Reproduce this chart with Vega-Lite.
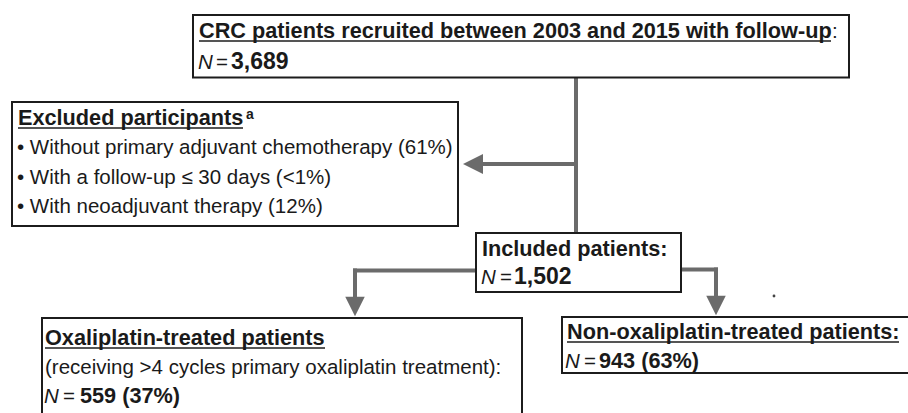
{
  "$schema": "https://vega.github.io/schema/vega-lite/v6.json",
  "width": 908,
  "height": 413,
  "autosize": {"type": "none"},
  "padding": 0,
  "background": "white",
  "config": {"view": {"stroke": null}},
  "datasets": {
    "boxes": [
      {"name": "top", "x": 193, "x2": 849, "y": 15, "y2": 77.5},
      {"name": "excluded", "x": 12, "x2": 458, "y": 102, "y2": 226},
      {"name": "included", "x": 476, "x2": 681, "y": 233, "y2": 292},
      {"name": "oxaliplatin", "x": 42, "x2": 522, "y": 318, "y2": 425},
      {"name": "nonoxaliplatin", "x": 562, "x2": 915, "y": 317, "y2": 373}
    ],
    "connectors": [
      {"x": 576, "x2": 576, "y": 77.5, "y2": 233},
      {"x": 478, "x2": 576, "y": 164, "y2": 164},
      {"x": 476, "x2": 355, "y": 270.5, "y2": 270.5},
      {"x": 355, "x2": 355, "y": 270.5, "y2": 300},
      {"x": 681, "x2": 716, "y": 269.5, "y2": 269.5},
      {"x": 716, "x2": 716, "y": 269.5, "y2": 299}
    ],
    "arrows": [
      {"x": 473, "y": 164, "shape": "M1,-1L1,1L-1,0Z", "size": 400},
      {"x": 355, "y": 306.5, "shape": "M-1,-1L1,-1L0,1Z", "size": 380},
      {"x": 716, "y": 305.5, "shape": "M-1,-1L1,-1L0,1Z", "size": 380}
    ],
    "specks": [
      {"x": 774, "y": 296}
    ],
    "underlines": [
      {"x": 199, "x2": 831, "y": 41},
      {"x": 18, "x2": 243, "y": 128},
      {"x": 45, "x2": 325, "y": 348},
      {"x": 567, "x2": 899, "y": 342}
    ],
    "texts": [
      {"style": "b", "text": "CRC patients recruited between 2003 and 2015 with follow-up", "x": 199, "y": 38},
      {"style": "n", "text": ":", "x": 832, "y": 38},
      {"style": "i", "text": "N", "x": 198, "y": 69},
      {"style": "n", "text": "=", "x": 216, "y": 69},
      {"style": "bn", "text": "3,689", "x": 231, "y": 69},
      {"style": "b", "text": "Excluded participants", "x": 18, "y": 125},
      {"style": "sup", "text": "a", "x": 246, "y": 119},
      {"style": "n", "text": "• Without primary adjuvant chemotherapy (61%)", "x": 17, "y": 154},
      {"style": "n", "text": "• With a follow-up ≤ 30 days (<1%)", "x": 17, "y": 184},
      {"style": "n", "text": "• With neoadjuvant therapy (12%)", "x": 17, "y": 213},
      {"style": "b", "text": "Included patients:", "x": 482, "y": 256},
      {"style": "i", "text": "N", "x": 481, "y": 284},
      {"style": "n", "text": "=", "x": 500, "y": 284},
      {"style": "bn", "text": "1,502", "x": 514, "y": 284},
      {"style": "b", "text": "Oxaliplatin-treated patients", "x": 45, "y": 345},
      {"style": "n", "text": "(receiving >4 cycles primary oxaliplatin treatment):", "x": 45, "y": 374},
      {"style": "i", "text": "N", "x": 44, "y": 403},
      {"style": "n", "text": "=", "x": 63, "y": 403},
      {"style": "b", "text": "559 (37%)", "x": 80, "y": 403},
      {"style": "b", "text": "Non-oxaliplatin-treated patients:", "x": 567, "y": 339},
      {"style": "i", "text": "N", "x": 565, "y": 368},
      {"style": "n", "text": "=", "x": 584, "y": 368},
      {"style": "b", "text": "943 (63%)", "x": 599, "y": 368}
    ]
  },
  "layer": [
    {
      "data": {"name": "connectors"},
      "mark": {"type": "rule", "stroke": "#6b6b6b", "strokeWidth": 4, "strokeCap": "square"},
      "encoding": {
        "x": {"field": "x", "type": "quantitative", "scale": {"domain": [0, 908], "nice": false, "zero": false}, "axis": null},
        "x2": {"field": "x2"},
        "y": {"field": "y", "type": "quantitative", "scale": {"domain": [0, 413], "nice": false, "zero": false, "reverse": true}, "axis": null},
        "y2": {"field": "y2"}
      }
    },
    {
      "data": {"name": "boxes"},
      "mark": {"type": "rect", "fill": "white", "stroke": "#1c1c1c", "strokeWidth": 2},
      "encoding": {
        "x": {"field": "x", "type": "quantitative", "axis": null},
        "x2": {"field": "x2"},
        "y": {"field": "y", "type": "quantitative", "axis": null},
        "y2": {"field": "y2"}
      }
    },
    {
      "data": {"name": "arrows"},
      "mark": {"type": "point", "filled": true, "fill": "#6b6b6b", "opacity": 1, "strokeWidth": 0},
      "encoding": {
        "x": {"field": "x", "type": "quantitative", "axis": null},
        "y": {"field": "y", "type": "quantitative", "axis": null},
        "shape": {"field": "shape", "type": "nominal", "scale": null, "legend": null},
        "size": {"field": "size", "type": "quantitative", "scale": null, "legend": null}
      }
    },
    {
      "data": {"name": "specks"},
      "mark": {"type": "point", "filled": true, "shape": "circle", "size": 8, "fill": "#444444", "opacity": 1},
      "encoding": {
        "x": {"field": "x", "type": "quantitative", "axis": null},
        "y": {"field": "y", "type": "quantitative", "axis": null}
      }
    },
    {
      "data": {"name": "underlines"},
      "mark": {"type": "rule", "stroke": "#1c1c1c", "strokeWidth": 1.6},
      "encoding": {
        "x": {"field": "x", "type": "quantitative", "axis": null},
        "x2": {"field": "x2"},
        "y": {"field": "y", "type": "quantitative", "axis": null}
      }
    },
    {
      "data": {"name": "texts"},
      "transform": [{"filter": "datum.style === 'b'"}],
      "mark": {"type": "text", "align": "left", "baseline": "alphabetic", "font": "Liberation Sans", "fontSize": 21.7, "fontWeight": "bold", "fill": "#1a1a1a"},
      "encoding": {
        "x": {"field": "x", "type": "quantitative", "axis": null},
        "y": {"field": "y", "type": "quantitative", "axis": null},
        "text": {"field": "text"}
      }
    },
    {
      "data": {"name": "texts"},
      "transform": [{"filter": "datum.style === 'bn'"}],
      "mark": {"type": "text", "align": "left", "baseline": "alphabetic", "font": "Liberation Sans", "fontSize": 23, "fontWeight": "bold", "fill": "#1a1a1a"},
      "encoding": {
        "x": {"field": "x", "type": "quantitative", "axis": null},
        "y": {"field": "y", "type": "quantitative", "axis": null},
        "text": {"field": "text"}
      }
    },
    {
      "data": {"name": "texts"},
      "transform": [{"filter": "datum.style === 'n'"}],
      "mark": {"type": "text", "align": "left", "baseline": "alphabetic", "font": "Liberation Sans", "fontSize": 20.5, "fill": "#1a1a1a"},
      "encoding": {
        "x": {"field": "x", "type": "quantitative", "axis": null},
        "y": {"field": "y", "type": "quantitative", "axis": null},
        "text": {"field": "text"}
      }
    },
    {
      "data": {"name": "texts"},
      "transform": [{"filter": "datum.style === 'i'"}],
      "mark": {"type": "text", "align": "left", "baseline": "alphabetic", "font": "Liberation Sans", "fontSize": 20.5, "fontStyle": "italic", "fill": "#1a1a1a"},
      "encoding": {
        "x": {"field": "x", "type": "quantitative", "axis": null},
        "y": {"field": "y", "type": "quantitative", "axis": null},
        "text": {"field": "text"}
      }
    },
    {
      "data": {"name": "texts"},
      "transform": [{"filter": "datum.style === 'sup'"}],
      "mark": {"type": "text", "align": "left", "baseline": "alphabetic", "font": "Liberation Sans", "fontSize": 14, "fontWeight": "bold", "fill": "#1a1a1a"},
      "encoding": {
        "x": {"field": "x", "type": "quantitative", "axis": null},
        "y": {"field": "y", "type": "quantitative", "axis": null},
        "text": {"field": "text"}
      }
    }
  ]
}
